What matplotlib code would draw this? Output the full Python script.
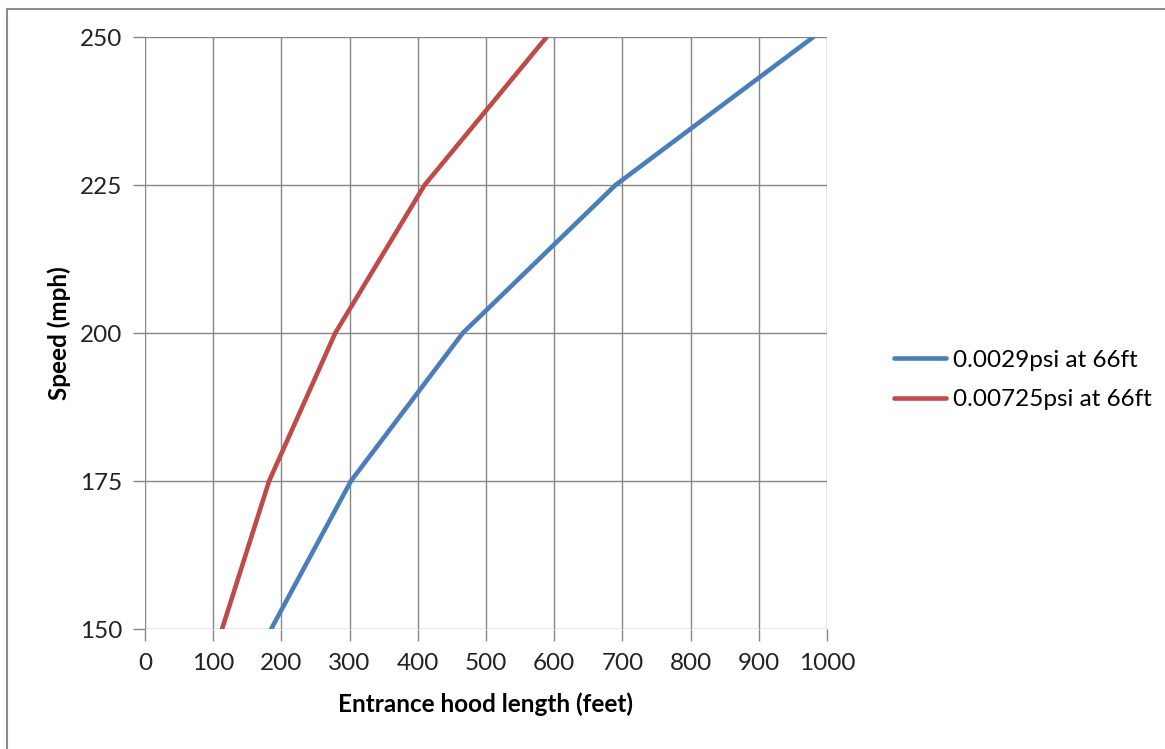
import matplotlib.pyplot as plt
from matplotlib.lines import Line2D

# data
speed = [150, 175, 200, 225, 250]
hood_low = [185, 302, 466, 690, 980]     # 0.0029psi at 66ft
hood_high = [113, 182, 279, 410, 589]    # 0.00725psi at 66ft
series_labels = ['0.0029psi at 66ft', '0.00725psi at 66ft']
x_ticks = list(range(0, 1001, 100))
y_ticks = [150, 175, 200, 225, 250]

plt.rcParams['font.family'] = ['Lato', 'DejaVu Sans']

W, H = 1165, 749
fs = 17.5
fig = plt.figure(figsize=(W / 100, H / 100), dpi=100)
ax = fig.add_axes([145 / W, 1 - 629 / H, (827 - 145) / W, (629 - 37) / H])

grid_col = '#868686'
ax.plot(hood_low, speed, color='#4A7EBB', lw=3.3, label=series_labels[0],
        solid_capstyle='round', solid_joinstyle='round')
ax.plot(hood_high, speed, color='#BE4B48', lw=3.3, label=series_labels[1],
        solid_capstyle='round', solid_joinstyle='round')

ax.set_xlim(0, 1000)
ax.set_ylim(150, 250)
ax.set_xticks(x_ticks)
ax.set_yticks(y_ticks)
ax.grid(True, color=grid_col, lw=1)
ax.set_axisbelow(True)
for s in ax.spines.values():
    s.set_visible(False)
ax.tick_params(axis='both', length=8.5, width=1, color=grid_col,
               labelsize=fs, labelcolor='#222222')
ax.tick_params(axis='x', pad=9)
ax.tick_params(axis='y', pad=8)

# axis titles placed in figure pixels
fig.text(486 / W, 1 - 704 / H, 'Entrance hood length (feet)', fontsize=fs,
         fontweight='bold', ha='center', va='center')
fig.text(59 / W, 1 - 333 / H, 'Speed (mph)', fontsize=fs, fontweight='bold',
         rotation=90, ha='center', va='center')

ax.legend(loc='center left', bbox_to_anchor=(894 / W, 1 - 380 / H),
          bbox_transform=fig.transFigure, frameon=False, fontsize=fs,
          handlelength=2.15, handletextpad=0.28, borderpad=0,
          borderaxespad=0, labelspacing=0.75)

# outer chart frame (only top and left edges visible)
fig.add_artist(Line2D([6.5 / W, 6.5 / W], [0, 1 - 8.5 / H], color='#8c8c8c',
                      lw=1.5, transform=fig.transFigure))
fig.add_artist(Line2D([6.5 / W, 1], [1 - 8.5 / H, 1 - 8.5 / H],
                      color='#8c8c8c', lw=1.5, transform=fig.transFigure))

fig.savefig('out.png', dpi=100)
